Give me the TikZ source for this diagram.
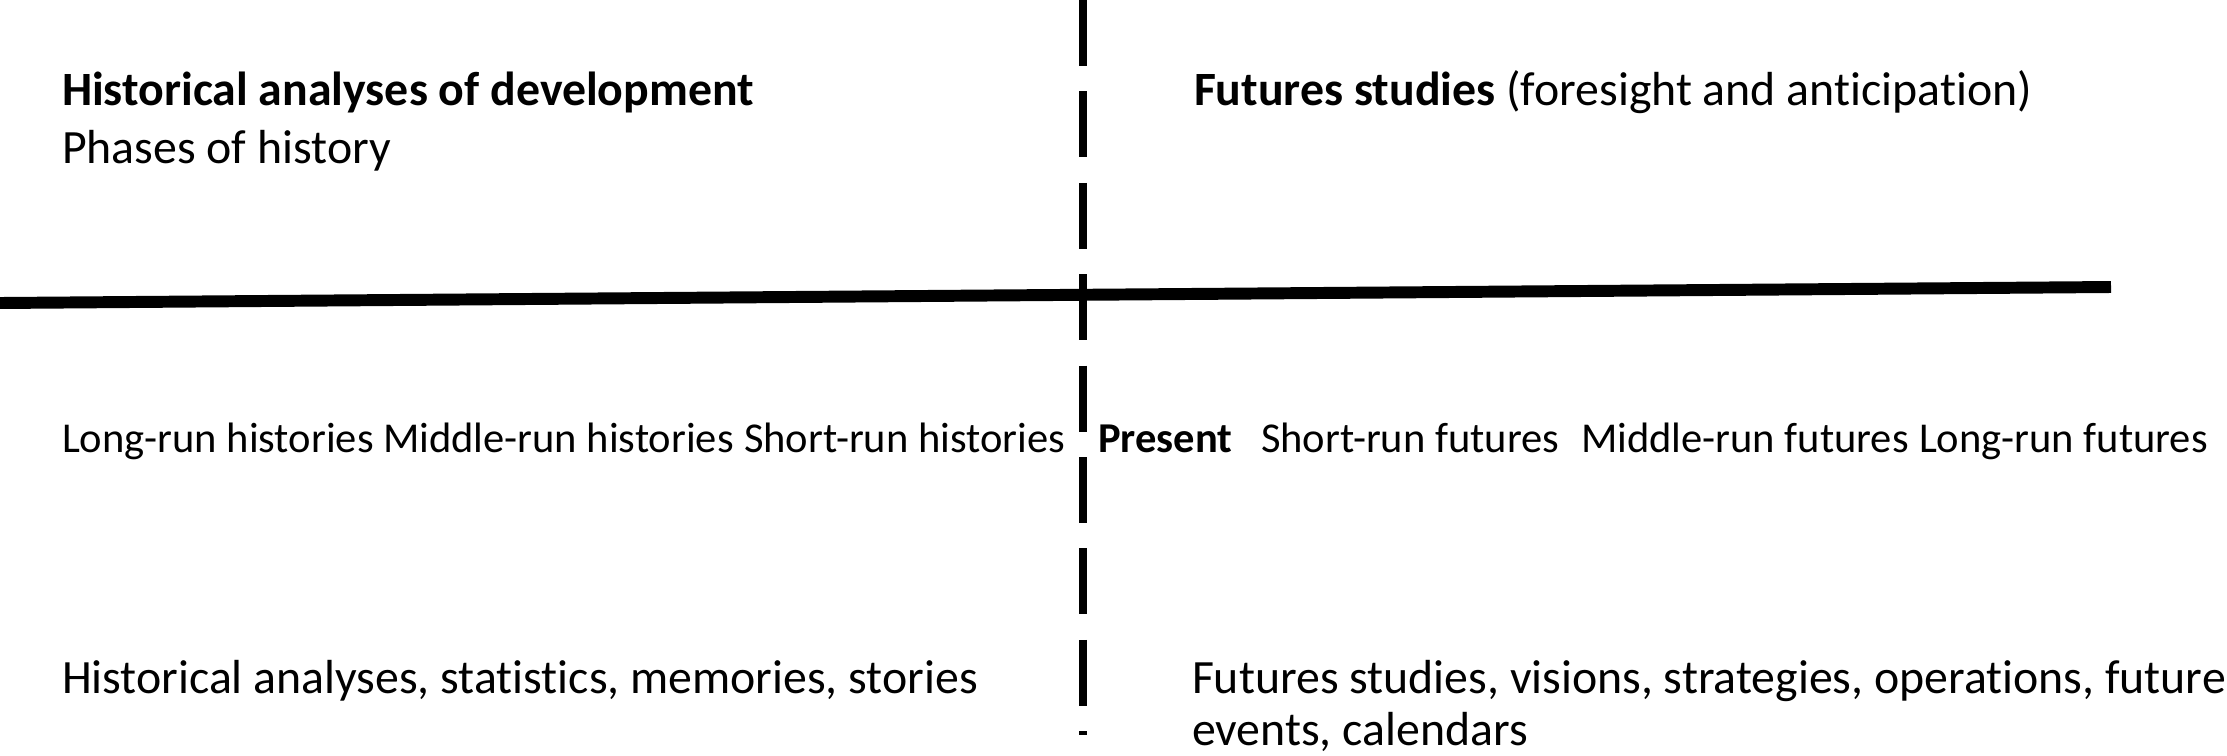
\documentclass[tikz,border=0pt]{standalone}
\usepackage{fontspec}
\setmainfont{Carlito}[Ligatures=NoCommon]
\usepackage{xcolor}
\usepackage{tikz}
\usetikzlibrary{positioning}

\begin{document}
\begin{tikzpicture}[
    every node/.style={inner sep=0pt, outer sep=0pt, anchor=base west},
    label big/.style={font=\fontsize{13.6}{16}\selectfont},
    label small/.style={font=\fontsize{12.1}{14.5}\selectfont},
    timeline/.style={line width=3.4pt, color=black},
    presentline/.style={line width=2pt, color=black, dash pattern=on 0.66cm off 0.254cm}
  ]
    \useasboundingbox (0,0) rectangle (22.27,7.55);
    \clip (0,0) rectangle (22.27,7.55);

    % basics
    \coordinate (pastend) at (0,4.52);
    \coordinate (futureend) at (21.11,4.68);
    \coordinate (nowtop) at (10.83,7.55);
    \coordinate (nowbottom) at (10.83,0.20);
    \draw [timeline] (pastend) -- (futureend);
    \draw [presentline] (nowtop) -- (nowbottom);

    % headings
    \node [label big] (histhead) at (0.62,6.50) {\textbf{Historical analyses of development}};
    \node [label big] (phases) at (0.62,5.92) {Phases of history};
    \node [label big] (futhead) at (11.94,6.50) {\textbf{Futures studies} (foresight and anticipation)};

    % time spans
    \node [label small] (longhist) at (0.62,3.03) {Long-run histories};
    \node [label small] (midhist) at (3.83,3.03) {Middle-run histories};
    \node [label small] (shorthist) at (7.44,3.03) {Short-run histories};
    \node [label small] (present) at (10.98,3.03) {\textbf{Present}};
    \node [label small] (shortfut) at (12.61,3.03) {Short-run futures};
    \node [label small] (midfut) at (15.81,3.03) {Middle-run futures};
    \node [label small] (longfut) at (19.19,3.03) {Long-run futures};

    % sources
    \node [label big] (histsrc) at (0.62,0.62) {Historical analyses, statistics, memories, stories};
    \node [label big] (futsrc) at (11.92,0.62) {Futures studies, visions, strategies, operations, future};
    \node [label big] (futsrcb) at (11.92,0.10) {events, calendars};

\end{tikzpicture}
\end{document}
